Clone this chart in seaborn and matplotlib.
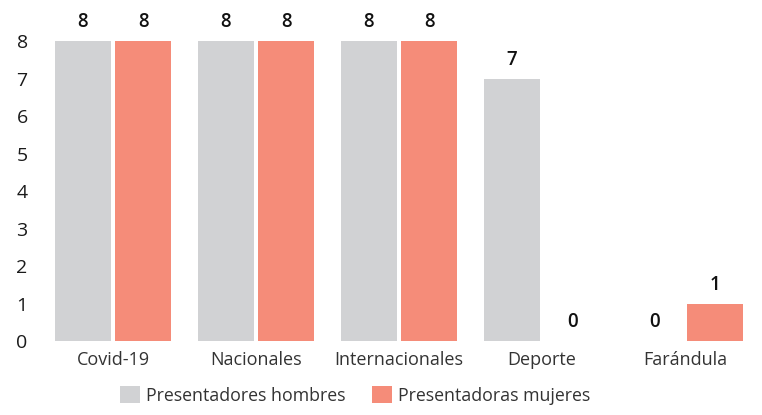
import numpy as np
import pandas as pd
import matplotlib
matplotlib.use("Agg")
import matplotlib.pyplot as plt
import seaborn as sns

categorias = ["Covid-19", "Nacionales", "Internacionales", "Deporte", "Farándula"]
hombres = [8, 8, 8, 7, 0]
mujeres = [8, 8, 8, 0, 1]
series = ["Presentadores hombres", "Presentadoras mujeres"]
colores = ["#d1d2d4", "#f58c79"]

df = pd.DataFrame({
    "tema": categorias * 2,
    "valor": hombres + mujeres,
    "grupo": [series[0]] * len(categorias) + [series[1]] * len(categorias),
})

sns.set_style("white")
plt.rcParams['font.family'] = ['Open Sans', 'DejaVu Sans']

fig = plt.figure(figsize=(7.62, 4.15), dpi=100)
ax = fig.add_axes([0.0545, 0.178, 0.9385, 0.723])

sns.barplot(data=df, x="tema", y="valor", hue="grupo", palette=colores,
            width=0.845, gap=0.075, saturation=1, linewidth=0, ax=ax)

ax.set_ylim(0, 8)
ax.set_xlim(-0.5, len(categorias) - 0.5)
ax.set_xlabel("")
ax.set_ylabel("")
ax.set_yticks(range(0, 9))
sns.despine(ax=ax, left=True, bottom=True)
ax.tick_params(axis="y", length=0, labelsize=14, colors="#1a1a1a", pad=10)
ax.tick_params(axis="x", length=4, width=0.8, color="#e6e6e6", labelsize=13,
               labelcolor="#333333", pad=3)

for cont in ax.containers:
    for bar in cont:
        h = bar.get_height()
        ax.text(bar.get_x() + bar.get_width() / 2, h + 0.5, f"{int(h)}",
                ha="center", va="center", fontsize=13.5, fontweight="semibold",
                color="#111111", clip_on=False)

ax.legend(loc="upper left", bbox_to_anchor=(0.0995, -0.125), ncol=2, frameon=False,
          fontsize=12.8, handlelength=1.15, handleheight=1.15, handletextpad=0.35,
          columnspacing=1.45, borderaxespad=0)
for t in ax.get_legend().get_texts():
    t.set_color("#333333")

fig.savefig("out.png", dpi=100)
